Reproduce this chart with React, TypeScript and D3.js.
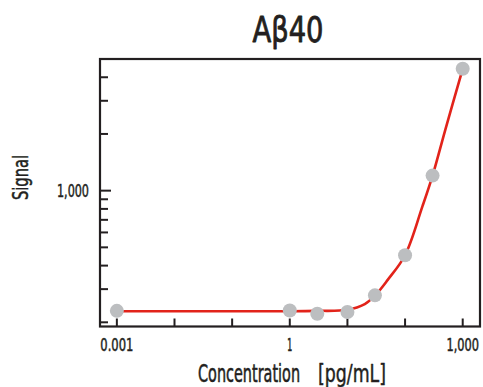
import React, { useLayoutEffect, useRef, useState } from "react";
import * as d3 from "d3";

const title = "Aβ40";
const pointConc = [0.001, 1, 3, 10, 30, 100, 300, 1000];
const pointSignal = [230, 231, 222, 227, 278, 454, 1202, 4436];
const curveConc = [0.001, 0.01, 0.1, 1, 3, 10, 20, 30, 50, 100, 200, 300, 500, 1000];
const curveSignal = [229, 229, 229, 229, 230, 233, 250, 277, 336, 454, 825, 1202, 2110, 4436];
const xTickValues = [0.001, 0.01, 0.1, 1, 10, 100, 1000];
const xLabelValues = [0.001, 1, 1000];
const xLabelTexts = ["0.001", "1", "1,000"];
const yMinorTicks = [200, 300, 400, 500, 600, 700, 800, 900, 2000, 3000, 4000];
const yMajorTicks = [1000];
const yLabelTexts = ["1,000"];
const xTitleParts = ["Concentration", "[pg/mL]"];
const yTitle = "Signal";

const W = 483, H = 387;
const L = 100, R = 480, T = 59, B = 326.5;
const INK = "#231f20";
const FONT = "'Liberation Sans Narrow', 'DejaVu Sans Condensed', 'Arial Narrow', sans-serif";

type FitProps = {
  x: number; y: number; width: number; size: number; anchor?: string; rotate?: number;
  weight?: number; children: string;
};

function FitText({ x, y, width, size, anchor = "start", rotate = 0, weight = 0.35, children }: FitProps) {
  const ref = useRef<SVGTextElement>(null);
  const [s, setS] = useState(0.8);
  useLayoutEffect(() => {
    if (ref.current) {
      const len = ref.current.getComputedTextLength();
      if (len > 0) setS(width / len);
    }
  }, [width, children, size]);
  return (
    <g transform={`translate(${x},${y}) rotate(${rotate}) scale(${s},1)`}>
      <text ref={ref} x={0} y={0} fontSize={size} textAnchor={anchor} fill={INK}
        stroke={INK} strokeWidth={weight / s} strokeLinejoin="round">{children}</text>
    </g>
  );
}

export default function App() {
  const x = d3.scaleLog().domain([0.00051, 1995]).range([L, R]);
  const y = d3.scaleLog().domain([190, 5000]).range([B, T]);
  const line = d3
    .line<number>()
    .x((_, i) => x(curveConc[i]))
    .y((d) => y(d))
    .curve(d3.curveCatmullRom.alpha(0.5));
  const xLabelWidths = [33, 5, 32.5];
  return (
    <svg width={W} height={H} style={{ position: "absolute", left: 0, top: 0 }} fontFamily={FONT}>
      <rect x={0} y={0} width={W} height={H} fill="#fff" />
      <FitText x={288} y={42} width={71} size={36} anchor="middle" weight={0.7}>{title}</FitText>
      {xTickValues.map((v) => (
        <line key={"xt" + v} x1={x(v)} x2={x(v)} y1={B} y2={B - 8} stroke={INK} strokeWidth={2} />
      ))}
      {yMinorTicks.map((v) => (
        <line key={"ym" + v} x1={L} x2={L + 8} y1={y(v)} y2={y(v)} stroke={INK} strokeWidth={2} />
      ))}
      {yMajorTicks.map((v) => (
        <line key={"yM" + v} x1={L} x2={L + 11} y1={y(v)} y2={y(v)} stroke={INK} strokeWidth={2} />
      ))}
      <rect x={L} y={T} width={R - L} height={B - T} fill="none" stroke={INK} strokeWidth={2.2} />
      <path d={line(curveSignal) || ""} fill="none" stroke="#e2231a" strokeWidth={2.6} />
      {pointConc.map((c, i) => (
        <circle key={"p" + i} cx={x(c)} cy={y(pointSignal[i])} r={7} fill="#bcbec0" />
      ))}
      {xLabelValues.map((v, i) => (
        <FitText key={"xl" + v} x={x(v)} y={351} width={xLabelWidths[i]} size={17.5} anchor="middle">
          {xLabelTexts[i]}
        </FitText>
      ))}
      {yMajorTicks.map((v, i) => (
        <FitText key={"yl" + v} x={89} y={y(v) + 6.5} width={32} size={17.5} anchor="end">
          {yLabelTexts[i]}
        </FitText>
      ))}
      <FitText x={198} y={382} width={102} size={24}>{xTitleParts[0]}</FitText>
      <FitText x={318} y={382} width={68} size={24}>{xTitleParts[1]}</FitText>
      <FitText x={28} y={177.5} width={45} size={22} anchor="middle" rotate={-90}>{yTitle}</FitText>
    </svg>
  );
}
